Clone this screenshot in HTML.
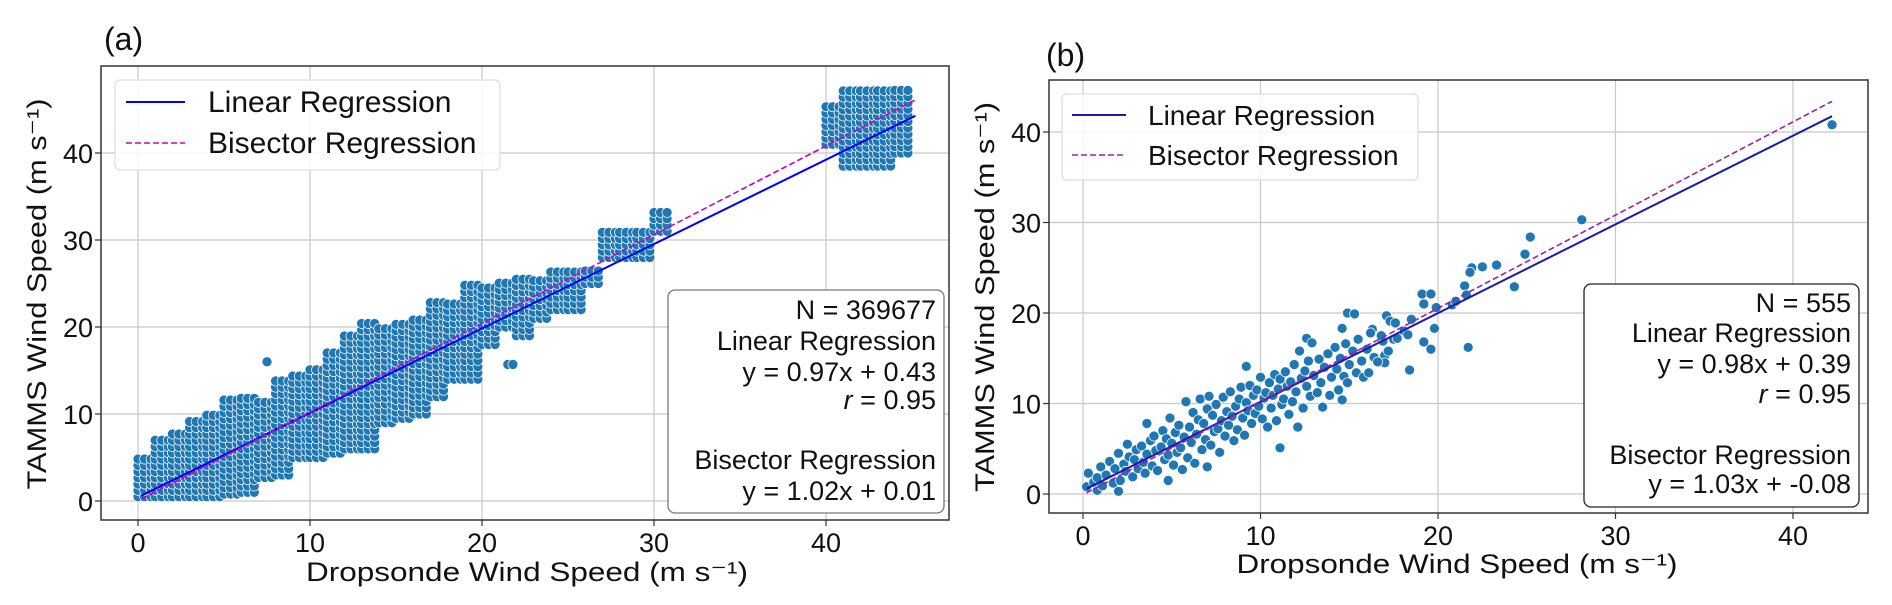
<!DOCTYPE html>
<html><head><meta charset="utf-8"><style>
html,body{margin:0;padding:0;background:#fff;}
svg{display:block;font-family:"Liberation Sans",sans-serif;}
</style></head><body>
<svg id="fig" width="1892" height="605" viewBox="0 0 1892 605"></svg>
<script>
// Panel (a): binned extents of dense scatter
const aColX = [0,1,2,3,4,5,6,7,8,9,10,11,12,13,14,15,16,17,18,19,20,21,22,23,24,25,26,27,28,29,30,40,41,42,43,44];
const aColLow = [0.5,0.5,0.5,0.5,0.5,0.8,1,2.7,3,5,5,5.5,6,6,9,9.5,10,12,14,14,18,20,19,21,22,22,25,28,28,28,31,41,38.5,38.5,38.5,40];
const aColHigh = [5,7,8,9.5,10,12,12,12,14,15,15.5,17.5,19,20.5,20.5,21,21,23,23,25,24.5,25.5,25.5,25.5,27,27,27,31.5,31.5,31.5,33.5,46,47.5,47.5,47.5,47.5];
const aOutX = [7.5,21.5,21.8];
const aOutY = [16,15.7,15.7];
const aLin = [0.97,0.43];
const aBis = [1.02,0.01];
const aXRange = [0.2,45.2];
// Panel (b)
const bX = [42.2,28.1,25.2,24.9,23.3,22.5,21.9,21.8,24.3,21.5,21.6,21.7,19.1,19.6,19.2,19.9,20.8,21,19.8,19.6,19.2,18.4,18.5,17.1,17.3,14.9,15.3,16.3,16.9,17.5,17.7,17,17,14.6,12.1,11.1,7,4.8,2,0.8,3.6,9.2,12.6,
0.2,0.3,0.6,0.8,1,1.1,1.3,1.5,1.7,1.8,2,2.1,2.3,2.4,2.5,2.6,2.8,2.9,3,3.1,3.3,3.4,3.5,3.6,3.8,3.9,4,4.1,4.2,4.4,4.5,4.6,4.7,4.8,4.9,5,5.1,5.2,5.3,5.4,5.5,5.6,5.7,5.8,5.9,6,6.1,6.2,6.3,6.4,6.5,6.6,6.7,6.8,6.9,7,7.1,7.2,7.3,7.4,7.5,7.6,7.7,7.8,7.9,8,8.1,8.2,8.3,8.4,8.5,8.6,8.7,8.8,8.9,9,9.1,9.2,9.3,9.4,9.5,9.6,9.7,9.8,9.9,10,10.1,10.2,10.3,10.4,10.5,10.6,10.7,10.8,10.9,11,11.1,11.2,11.3,11.4,11.5,11.6,11.7,11.8,11.9,12,12.2,12.3,12.4,12.5,12.6,12.7,12.8,12.9,13,13.2,13.3,13.4,13.5,13.6,13.8,13.9,14,14.2,14.3,14.4,14.5,14.6,14.7,14.8,14.9,15,15.2,15.4,15.5,15.7,15.8,16,16.1,16.2,16.4,16.6,16.8,17.2,17.6,18.1,18.3];
const bY = [40.8,30.3,28.4,26.5,25.3,25.1,25,24.5,22.9,23,22,16.2,22.1,22.1,21,20.6,20.9,21.3,18.3,16,16.8,13.7,19.3,19.7,19.1,20,19.9,18.2,16.9,17.1,17.2,15.3,14.5,10.4,7.4,5.1,3,1.5,0.3,0.4,7.8,14.1,17.2,
0.8,2.3,1.3,1.8,3,0.9,2.1,3.6,1.2,2.8,4.5,1.5,3.3,2.5,5.5,4.1,1.9,3.8,4.9,2.8,5.3,3.5,2.3,4.4,5.9,3.1,6.4,4.8,2.6,5.2,7,3.8,6.1,4.3,8.4,5.6,3.2,6.8,4.6,7.6,5.1,2.7,6.3,10.2,4,7.4,5.7,9,3.4,6.6,8.2,10.5,4.9,7.8,6,9.4,10.8,5.4,8.7,6.9,9.9,7.2,4.6,8.1,10.7,6.4,9.1,7.6,11.3,8.6,5.9,9.7,7.1,10.5,11.8,8.4,6.5,10.1,9.2,12,7.8,10.9,8.9,11.5,9.7,12.9,8.3,10.6,11.2,7.4,12.3,9.5,10.9,13.2,8.1,11.6,12.7,9.9,10.5,13.5,11.9,8.8,12.4,10.2,14.3,11.3,15.8,12.8,9.5,13.6,11.9,14.7,10.8,16.7,13.1,11.2,14.9,12.3,9.6,14,15.5,10.9,12.9,16.2,13.8,11.5,15,18.3,13,16.6,12.3,14.3,15.8,13.4,17.1,14.7,12.9,16,13.4,17.8,15.1,14.6,17.5,15.8,18.9,18,17.6];
const bLin = [0.98,0.39];
const bBis = [1.03,-0.08];
const bXRange = [0.2,42.2];
const xTicks = [0,10,20,30,40];
const yTicks = [0,10,20,30,40];

const NS="http://www.w3.org/2000/svg";
const svg=document.getElementById('fig');
function mk(tag,attrs,parent){const e=document.createElementNS(NS,tag);for(const k in attrs)e.setAttribute(k,attrs[k]);(parent||svg).appendChild(e);return e;}

function panel(P){
  const g=mk('g',{});
  
  
  const sx=v=>P.x0+v*P.kx, sy=v=>P.y0-v*P.ky;
  const cid='clip'+P.id;
  const cp=mk('clipPath',{id:cid},g);mk('rect',{x:P.L,y:P.T,width:P.R-P.L,height:P.B-P.T},cp);
  xTicks.forEach(t=>{
    const l=mk('line',{x1:sx(t),x2:sx(t),y1:P.T,y2:P.B,stroke:'#c8c8c8','stroke-width':1.2},g);
    
    mk('line',{x1:sx(t),x2:sx(t),y1:P.B,y2:P.B+6,stroke:'#333','stroke-width':1.2},g);
    const tx=mk('text',{x:sx(t),y:P.B+32,'font-size':27,'text-anchor':'middle',fill:'#111'},g);tx.textContent=t;
    
  });
  yTicks.forEach(t=>{
    const l=mk('line',{x1:P.L,x2:P.R,y1:sy(t),y2:sy(t),stroke:'#c8c8c8','stroke-width':1.2},g);
    
    mk('line',{x1:P.L-6,x2:P.L,y1:sy(t),y2:sy(t),stroke:'#333','stroke-width':1.2},g);
    const tx=mk('text',{x:P.L-8,y:sy(t)+10,'font-size':27,'text-anchor':'end',fill:'#111'},g);tx.textContent=t;
    
  });
  const pg=mk('g',{'clip-path':'url(#'+cid+')'},g);
  
  
  P.points(pg,sx,sy);
  const lg=mk('g',{'clip-path':'url(#'+cid+')'},g);
  const l1=mk('line',{x1:sx(P.xr[0]),y1:sy(P.lin[0]*P.xr[0]+P.lin[1]),x2:sx(P.xr[1]),y2:sy(P.lin[0]*P.xr[1]+P.lin[1]),stroke:P.linC,'stroke-width':2},lg);
  
  const l2=mk('line',{x1:sx(P.xr[0]),y1:sy(P.bis[0]*P.xr[0]+P.bis[1]),x2:sx(P.xr[1]),y2:sy(P.bis[0]*P.xr[1]+P.bis[1]),stroke:P.bisC,'stroke-width':1.6,'stroke-dasharray':'6,3'},lg);
  
  mk('rect',{x:P.L,y:P.T,width:P.R-P.L,height:P.B-P.T,fill:'none',stroke:'#333','stroke-width':1.5},g);
  // legend
  const lgd=mk('g',{},g);
  
  const Lg=P.leg;
  mk('rect',{x:Lg.x,y:Lg.y,width:Lg.w,height:Lg.h,rx:5,fill:'#fff','fill-opacity':0.85,stroke:'#ddd','stroke-width':1.2},lgd);
  mk('line',{x1:Lg.hx1,x2:Lg.hx2,y1:Lg.r1,y2:Lg.r1,stroke:P.linC,'stroke-width':2},lgd);
  mk('line',{x1:Lg.hx1,x2:Lg.hx2,y1:Lg.r2,y2:Lg.r2,stroke:P.bisC,'stroke-width':1.6,'stroke-dasharray':'6,3'},lgd);
  const e1=mk('text',{x:Lg.tx,y:Lg.r1+10,'font-size':Lg.fs,fill:'#111'},lgd);e1.textContent='Linear Regression';
  
  const e2=mk('text',{x:Lg.tx,y:Lg.r2+10,'font-size':Lg.fs,fill:'#111'},lgd);e2.textContent='Bisector Regression';
  
  // stats box
  const S=P.stat;
  const sb=mk('g',{},g);
  
  mk('rect',{x:S.x,y:S.y,width:S.w,height:S.h,rx:7,fill:'#fff',stroke:P.id==='a'?'#777':'#222','stroke-width':1.3},sb);
  S.lines.forEach((s,i)=>{
    const t=mk('text',{x:S.tx,y:S.ys[i]+9,'font-size':27,'text-anchor':'end',fill:'#111'},sb);
    if(s.startsWith('r')){const it=mk('tspan',{'font-style':'italic'},t);it.textContent='r';const r=mk('tspan',{},t);r.textContent=s.slice(1);}
    else t.textContent=s;
  });
  // axis labels
  const xl=mk('text',{x:P.xl.x,y:P.xl.y,'font-size':27,'text-anchor':'middle',fill:'#111',textLength:P.xl.len,lengthAdjust:'spacingAndGlyphs'},g);
  xl.textContent='Dropsonde Wind Speed (m s\u207B\u00B9)';
  
  const yl=mk('text',{x:0,y:0,'font-size':27,'text-anchor':'middle',fill:'#111',textLength:P.yl.len,lengthAdjust:'spacingAndGlyphs',transform:`translate(${P.yl.x},${P.yl.y}) rotate(-90)`},g);
  yl.textContent='TAMMS Wind Speed (m s\u207B\u00B9)';
  
  const pl=mk('text',{x:P.pl.x,y:P.pl.y,'font-size':32,fill:'#111'},g);pl.textContent=P.pl.t;
  
}

function dot(pg,cx,cy,r){const c=mk('circle',{cx:cx,cy:cy,r:r,fill:'#1f77b4',stroke:'#fff','stroke-width':0.7},pg);
  }

panel({id:'a',name:'panel-a',L:101,R:949,T:66,B:520,x0:138,kx:17.2,y0:501,ky:8.7,
  lin:aLin,bis:aBis,xr:aXRange,linC:'#0000ff',bisC:'#cc00cc',
  points:(pg,sx,sy)=>{
    aColX.forEach((c,i)=>{
      for(let x=c;x<c+1;x+=0.38){
        for(let y=aColLow[i];y<=aColHigh[i];y+=0.72) dot(pg,sx(x),sy(y),5);
      }
    });
    aOutX.forEach((x,i)=>dot(pg,sx(x),sy(aOutY[i]),5));
  },
  leg:{x:115,y:80,w:385,h:90,hx1:126,hx2:185,r1:102,r2:143,tx:208,fs:30},
  stat:{x:668,y:290,w:276,h:223,tx:936,ys:[310,341,372,400,460,491],
    lines:['N = 369677','Linear Regression','y = 0.97x + 0.43','r = 0.95','Bisector Regression','y = 1.02x + 0.01']},
  xl:{x:527,y:581,len:442},yl:{x:46,y:294,len:391},pl:{x:104,y:50,t:'(a)'}
});
panel({id:'b',name:'panel-b',L:1049,R:1868,T:80,B:513,x0:1083,kx:17.75,y0:494,ky:9.05,
  lin:bLin,bis:bBis,xr:bXRange,linC:'#1a1ab0',bisC:'#a020a0',
  points:(pg,sx,sy)=>{bX.forEach((x,i)=>dot(pg,sx(x),sy(bY[i]),5));},
  leg:{x:1062,y:94,w:356,h:86,hx1:1072,hx2:1126,r1:115,r2:155,tx:1148,fs:28},
  stat:{x:1584,y:284,w:275,h:223,tx:1851,ys:[303,333,364,394,455,484],
    lines:['N = 555','Linear Regression','y = 0.98x + 0.39','r = 0.95','Bisector Regression','y = 1.03x + -0.08']},
  xl:{x:1457,y:573,len:441},yl:{x:994,y:297,len:390},pl:{x:1046,y:66,t:'(b)'}
});
</script>
</body></html>
